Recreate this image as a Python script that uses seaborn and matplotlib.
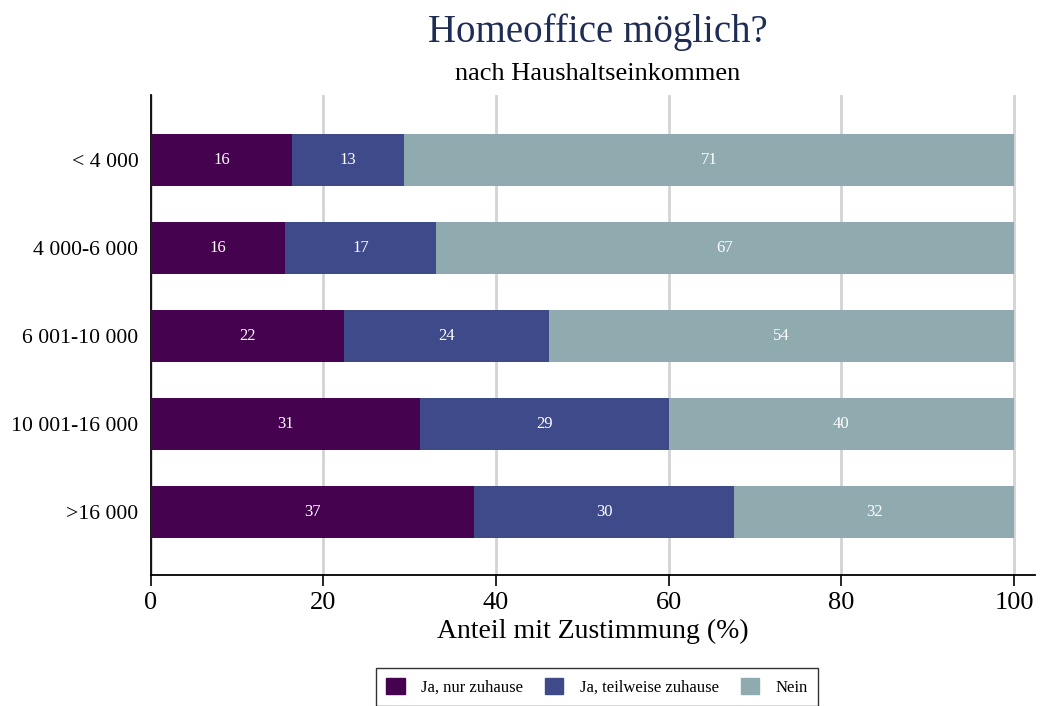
import matplotlib
matplotlib.use("Agg")
import matplotlib.pyplot as plt
import seaborn as sns
import pandas as pd
from matplotlib.patches import Patch

categories = ["< 4 000", "4 000-6 000", "6 001-10 000", "10 001-16 000", ">16 000"]
nur_zuhause = [16.4, 15.6, 22.4, 31.2, 37.4]
teilweise = [12.9, 17.4, 23.7, 28.8, 30.2]
nein = [70.7, 67.0, 53.9, 40.0, 32.4]
series_names = ["Ja, nur zuhause", "Ja, teilweise zuhause", "Nein"]
colors = ["#45024f", "#3e4a89", "#8fabb0"]

sns.set_theme(style="white")
plt.rcParams["font.family"] = ["Liberation Serif", "DejaVu Serif"]
plt.rcParams["text.color"] = "black"
plt.rcParams["xtick.color"] = "black"
plt.rcParams["ytick.color"] = "black"
plt.rcParams["axes.labelcolor"] = "black"

df = pd.DataFrame({"cat": categories, "a": nur_zuhause, "b": teilweise, "c": nein})
df["c1"] = df["a"]
df["c2"] = df["a"] + df["b"]
df["c3"] = df["a"] + df["b"] + df["c"]

fig = plt.figure(figsize=(10.4, 7.06), dpi=100)
ax = fig.add_axes([0.145, 0.1856, 0.85, 0.6798])

for col, color in zip(["c3", "c2", "c1"], colors[::-1]):
    sns.barplot(data=df, x=col, y="cat", color=color, width=0.59, saturation=1,
                ax=ax, order=categories, zorder=3, linewidth=0, edgecolor=color)

for i, row in df.iterrows():
    starts = [0, row["c1"], row["c2"]]
    vals = [row["a"], row["b"], row["c"]]
    for s, v in zip(starts, vals):
        ax.text(s + v / 2, i, f"{v:.0f}", ha="center", va="center",
                color="white", fontsize=12, zorder=5)

ax.set_xlim(0, 102.4)
ax.set_ylim(4.716, -0.74)
ax.set_xticks([0, 20, 40, 60, 80, 100])
ax.tick_params(axis="x", labelsize=19, length=8, width=1.2, direction="out",
               bottom=True, color="black", pad=4, labelcolor="black")
ax.tick_params(axis="y", labelsize=15.7, length=0, pad=9, labelcolor="black")
ax.xaxis.grid(True, color="#d3d3d3", linewidth=2, zorder=0)
ax.set_axisbelow(True)
for s in ["top", "right"]:
    ax.spines[s].set_visible(False)
for s in ["left", "bottom"]:
    ax.spines[s].set_color("black")
    ax.spines[s].set_linewidth(1.3)
ax.set_xlabel("Anteil mit Zustimmung (%)", fontsize=20, labelpad=4, color="black")
ax.set_ylabel("")

fig.text(0.575, 0.955, "Homeoffice möglich?", ha="center", va="center",
         fontsize=28, color="#1f2d55")
fig.text(0.575, 0.895, "nach Haushaltseinkommen", ha="center", va="center",
         fontsize=19, color="black")

handles = [Patch(facecolor=c, edgecolor=c) for c in colors]
leg = fig.legend(handles, series_names, loc="upper center",
                 bbox_to_anchor=(597 / 1040, 1 - 668 / 706), ncol=3, fontsize=12,
                 frameon=True, fancybox=False, edgecolor="black",
                 handlelength=1.1, handleheight=1.1, columnspacing=1.3,
                 handletextpad=1.0, borderpad=0.6, borderaxespad=0)
leg.get_frame().set_linewidth(1.0)

fig.savefig("out.png", dpi=100)
